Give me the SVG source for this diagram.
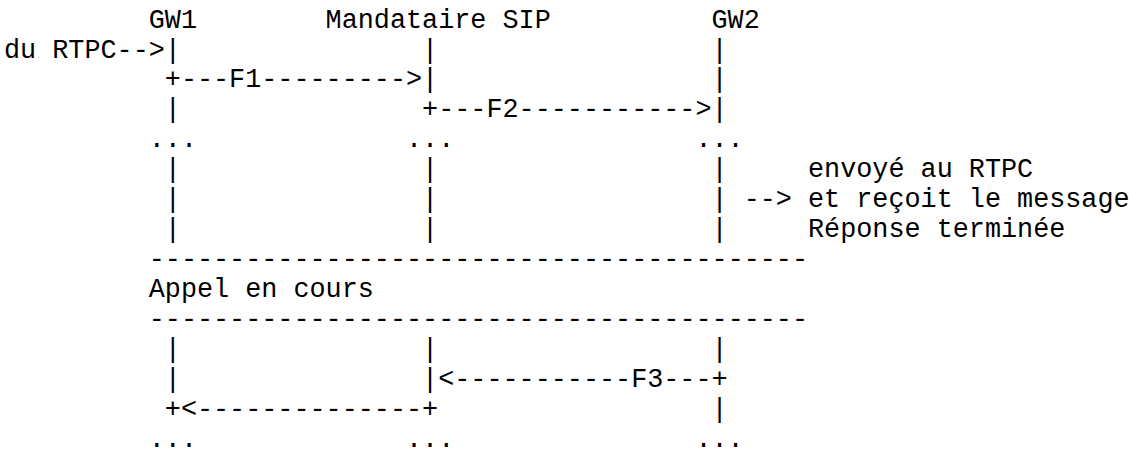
<svg xmlns="http://www.w3.org/2000/svg" width="1129" height="456" viewBox="0 0 1129 456">
<style>
text{font-family:"Liberation Mono","Courier New",monospace;font-size:26.8px;fill:#000;white-space:pre}
</style>
<rect width="1129" height="456" fill="#fff"/>
<g id="gw1">
<text x="148.72" y="27.5">GW1</text>
<text x="164.8" y="57.5">|</text>
<text x="164.8" y="117.4">|</text>
<text x="148.72" y="147.4">...</text>
<text x="164.8" y="177.3">|</text>
<text x="164.8" y="207.2">|</text>
<text x="164.8" y="237.2">|</text>
<text x="164.8" y="357">|</text>
<text x="164.8" y="387">|</text>
<text x="148.72" y="446.8">...</text>
</g>
<g id="proxy">
<text x="325.6" y="27.5">Mandataire SIP</text>
<text x="422.08" y="57.5">|</text>
<text x="406" y="147.4">...</text>
<text x="422.08" y="177.3">|</text>
<text x="422.08" y="207.2">|</text>
<text x="422.08" y="237.2">|</text>
<text x="422.08" y="357">|</text>
<text x="406" y="446.8">...</text>
</g>
<g id="gw2">
<text x="711.52" y="27.5">GW2</text>
<text x="711.52" y="57.5">|</text>
<text x="711.52" y="87.4">|</text>
<text x="695.44" y="147.4">...</text>
<text x="711.52" y="177.3">|</text>
<text x="711.52" y="207.2">|</text>
<text x="711.52" y="237.2">|</text>
<text x="711.52" y="357">|</text>
<text x="711.52" y="416.9">|</text>
<text x="695.44" y="446.8">...</text>
</g>
<g id="note">
<text x="808" y="177.3">envoyé au RTPC</text>
<text x="808" y="207.2">et reçoit le message</text>
<text x="808" y="237.2">Réponse terminée</text>
</g>
<g id="separator">
<text x="148.72" y="267.1">-----------------------------------------</text>
<text x="148.72" y="297.1">Appel en cours</text>
<text x="148.72" y="327">-----------------------------------------</text>
</g>
<g id="connectors">
<text x="4" y="57.5">du RTPC--&gt;</text>
<text x="164.8" y="87.4">+---F1---------&gt;|</text>
<text x="422.08" y="117.4">+---F2-----------&gt;|</text>
<text x="743.68" y="207.2">--&gt;</text>
<text x="422.08" y="387">|&lt;-----------F3---+</text>
<text x="164.8" y="416.9">+&lt;--------------+</text>
</g>
</svg>
